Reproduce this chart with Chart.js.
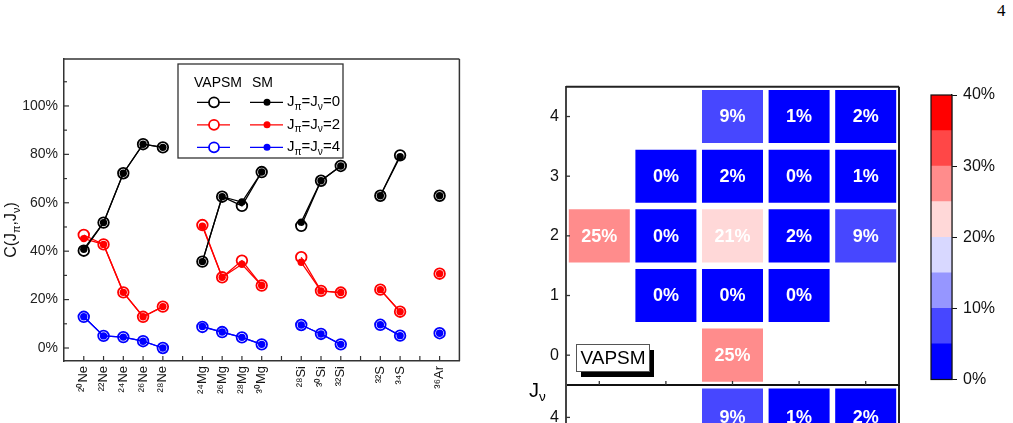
<!DOCTYPE html>
<html>
<head>
<meta charset="utf-8">
<script src="https://cdn.jsdelivr.net/npm/chart.js@4.4.0/dist/chart.umd.min.js"></script>
<style>
  html, body { margin: 0; padding: 0; background: #fff; }
  body { width: 1013px; height: 423px; overflow: hidden; position: relative; }
  .box { position: absolute; }
  #pageNum { position: absolute; left: 997px; top: 2px; font: 17px 'Liberation Serif', serif; line-height: 1; color: #000; }
</style>
</head>
<body>
<div id="pageNum">4</div>
<div class="box" style="left:0;top:40px;width:480px;height:383px"><canvas id="lines"></canvas></div>
<div class="box" style="left:510px;top:376px;width:400px;height:335px"><canvas id="mapBottom"></canvas></div>
<div class="box" style="left:510px;top:60px;width:400px;height:327px"><canvas id="mapTop"></canvas></div>
<div class="box" style="left:910px;top:80px;width:100px;height:320px"><canvas id="colorbar"></canvas></div>
<script>
// left panel: nuclei along x ('' = gap between isotope chains)
const nuclei = ['²⁰Ne', '²²Ne', '²⁴Ne', '²⁶Ne', '²⁸Ne', '', '²⁴Mg', '²⁶Mg', '²⁸Mg', '³⁰Mg', '',
                '²⁸Si', '³⁰Si', '³²Si', '', '³²S', '³⁴S', '', '³⁶Ar'];
// C(Jpi,Jnu) in %, VAPSM (open) and SM (filled)
const vapsm0 = [40.2, 51.8, 72.2, 84.2, 82.9, null, 35.7, 62.5, 58.7, 72.7, null, 50.5, 69.1, 75.2, null, 62.9, 79.6, null, 62.9];
const sm0    = [40.8, 51.8, 72.2, 84.2, 82.9, null, 35.7, 62.5, 60.3, 72.7, null, 52.0, 69.1, 75.2, null, 62.9, 79.0, null, 62.9];
const vapsm2 = [46.7, 42.8, 23.0, 12.9, 17.1, null, 50.8, 29.2, 36.1, 25.8, null, 37.5, 23.6, 22.9, null, 24.1, 15.0, null, 30.7];
const sm2    = [45.2, 42.8, 23.0, 12.9, 17.1, null, 50.3, 29.2, 34.6, 25.8, null, 35.4, 23.6, 22.9, null, 24.1, 15.0, null, 30.7];
const vapsm4 = [12.9, 5.0, 4.5, 2.8, 0.0, null, 8.7, 6.6, 4.4, 1.5, null, 9.5, 5.8, 1.5, null, 9.6, 5.1, null, 6.1];
const sm4    = [12.9, 5.0, 4.5, 2.8, 0.0, null, 8.9, 6.6, 4.4, 1.5, null, 9.5, 5.8, 1.5, null, 9.6, 5.1, null, 6.1];
const yTicks = [0, 20, 40, 60, 80, 100];

// right panel: rows Jnu, columns Jpi, values in %
const jpiLabels = ['0', '1', '2', '3', '4'];
const vapsmJnu0 = [null, null, 25, null, null];
const vapsmJnu1 = [null, 0, 0, 0, null];
const vapsmJnu2 = [25, 0, 21, 2, 9];
const vapsmJnu3 = [null, 0, 2, 0, 1];
const vapsmJnu4 = [null, null, 9, 1, 2];
const smJnu4 = [null, null, 9, 1, 2];
const jnuTicks = [0, 1, 2, 3, 4];

// colour scale
const levelEdges = [0, 5, 10, 15, 20, 25, 30, 35, 40];
const levelColors = ['#0000ff', '#4747ff', '#9696ff', '#d8d8ff', '#ffd8d8', '#ff8c8c', '#ff4747', '#ff0000'];
const barTicks = [0, 10, 20, 30, 40];

const FAM = "'Liberation Sans', Arial, sans-serif";
Chart.defaults.font.family = FAM;
Chart.defaults.color = '#000';

function levelColor(v) {
  if (v == null) return 'rgba(0,0,0,0)';
  const i = Math.min(Math.max(Math.floor(v / 5), 0), levelColors.length - 1);
  return levelColors[i];
}

// text with subscripts: parts = [[text, isSub], ...]
function richText(ctx, x, y, parts, size, align) {
  const setFont = p => { ctx.font = (p[1] ? size * 0.68 : size) + 'px ' + FAM; };
  let total = 0;
  parts.forEach(p => { setFont(p); total += ctx.measureText(p[0]).width; });
  let cx = align === 'center' ? x - total / 2 : x;
  ctx.textAlign = 'left';
  ctx.textBaseline = 'middle';
  parts.forEach(p => {
    setFont(p);
    ctx.fillText(p[0], cx, y + (p[1] ? size * 0.32 : 0));
    cx += ctx.measureText(p[0]).width;
  });
}

function line(ctx, x1, y1, x2, y2) {
  ctx.beginPath(); ctx.moveTo(x1, y1); ctx.lineTo(x2, y2); ctx.stroke();
}

// no extra room for half tick labels at the ends of a vertical axis
function noEndPadding(s) {
  s.paddingTop = 0;
  s.paddingBottom = 0;
}

const linesDecor = {
  id: 'linesDecor',
  afterDraw(chart) {
    const ctx = chart.ctx, a = chart.chartArea;
    const xs = chart.scales.x, ys = chart.scales.y;
    ctx.save();
    ctx.strokeStyle = '#333';
    ctx.lineWidth = 1.5;
    line(ctx, a.left, a.top, a.right, a.top);
    line(ctx, a.right, a.top, a.right, a.bottom);
    ctx.lineWidth = 1.2;
    for (let i = 1; i < chart.data.labels.length - 1; i++) {
      const px = xs.getPixelForValue(i);
      line(ctx, px, a.bottom, px, a.bottom - 5);
    }
    for (let v = 0; v <= 110; v += 10) {
      const py = ys.getPixelForValue(v);
      line(ctx, a.left, py, a.left + (v % 20 === 0 ? 5 : 3), py);
    }

    // legend
    const lx = 178, ly = 24, lw = 165, lh = 94;
    ctx.fillStyle = '#fff';
    ctx.fillRect(lx, ly, lw, lh);
    ctx.strokeStyle = '#333';
    ctx.lineWidth = 1.3;
    ctx.strokeRect(lx, ly, lw, lh);
    ctx.fillStyle = '#000';
    ctx.font = '14px ' + FAM;
    ctx.textBaseline = 'middle';
    ctx.textAlign = 'left';
    ctx.fillText('VAPSM', 194, 43);
    ctx.fillText('SM', 252, 43);
    const rows = [['#000', '0'], ['#ff0000', '2'], ['#0000ff', '4']];
    rows.forEach((r, k) => {
      const yy = 62.3 + k * 22.5;
      ctx.strokeStyle = r[0];
      ctx.lineWidth = 1.2;
      line(ctx, 197, yy, 230, yy);
      line(ctx, 250, yy, 283, yy);
      ctx.fillStyle = '#fff';
      ctx.lineWidth = 1.8;
      ctx.beginPath(); ctx.arc(214, yy, 5, 0, Math.PI * 2); ctx.fill(); ctx.stroke();
      ctx.fillStyle = r[0];
      ctx.beginPath(); ctx.arc(267, yy, 3.5, 0, Math.PI * 2); ctx.fill();
      ctx.fillStyle = '#000';
      richText(ctx, 287, yy, [['J', 0], ['π', 1], ['=J', 0], ['ν', 1], ['=' + r[1], 0]], 15, 'left');
    });

    // y title
    ctx.save();
    ctx.translate(12, 190);
    ctx.rotate(-Math.PI / 2);
    ctx.fillStyle = '#111';
    richText(ctx, 0, 0, [['C(J', 0], ['π', 1], [',J', 0], ['ν', 1], [')', 0]], 16, 'center');
    ctx.restore();
    ctx.restore();
  }
};

const pad = arr => [null, ...arr, null];

function lineSet(data, color, open) {
  return {
    data: pad(data),
    borderColor: color,
    backgroundColor: open ? 'rgba(0,0,0,0)' : color,
    pointBackgroundColor: open ? 'rgba(0,0,0,0)' : color,
    pointBorderColor: color,
    pointRadius: open ? 5.3 : 3.7,
    pointBorderWidth: open ? 1.8 : 0,
    borderWidth: 1.3,
    spanGaps: false,
    tension: 0
  };
}

new Chart(document.getElementById('lines'), {
  type: 'line',
  data: {
    labels: ['', ...nuclei, ''],
    datasets: [
      lineSet(sm0, '#000', false),
      lineSet(sm2, '#ff0000', false),
      lineSet(sm4, '#0000ff', false),
      lineSet(vapsm0, '#000', true),
      lineSet(vapsm2, '#ff0000', true),
      lineSet(vapsm4, '#0000ff', true)
    ]
  },
  options: {
    animation: false,
    responsive: true,
    maintainAspectRatio: false,
    layout: { autoPadding: false, padding: { top: 19, right: 9, left: 0, bottom: 0 } },
    plugins: { legend: { display: false }, tooltip: { enabled: false } },
    scales: {
      x: {
        type: 'category',
        offset: false,
        grid: { display: false, drawTicks: false },
        border: { color: '#333', width: 1.5 },
        ticks: { autoSkip: false, minRotation: 90, maxRotation: 90, padding: 5, color: '#111', font: { size: 13 } },
        afterFit: s => { s.height = 62; }
      },
      y: {
        min: -5.37,
        max: 119.4,
        grid: { display: false, drawTicks: false },
        border: { color: '#333', width: 1.5 },
        afterBuildTicks: s => { s.ticks = yTicks.map(v => ({ value: v })); },
        ticks: { callback: v => v + '%', padding: 6, color: '#222', font: { size: 14 } },
        afterFit: s => { s.width = 64; noEndPadding(s); }
      }
    }
  },
  plugins: [linesDecor]
});

const mapDecor = {
  id: 'mapDecor',
  afterDraw(chart, args, opts) {
    const ctx = chart.ctx, a = chart.chartArea;
    const xs = chart.scales.x, ys = chart.scales.y;
    ctx.save();
    ctx.strokeStyle = '#222';
    ctx.lineWidth = 2;
    line(ctx, a.left, a.top, a.right, a.top);
    line(ctx, a.right, a.top, a.right, a.bottom);
    ctx.lineWidth = 1.3;
    ctx.strokeStyle = '#333';
    jnuTicks.forEach(v => {
      const py = ys.getPixelForValue(v);
      line(ctx, a.left, py, a.left + 4, py);
    });
    jpiLabels.forEach((l, i) => {
      const px = xs.getPixelForValue(i);
      line(ctx, px, a.bottom, px, a.bottom - 4);
    });

    // cell labels
    ctx.fillStyle = '#fff';
    ctx.font = 'bold 18px ' + FAM;
    ctx.textAlign = 'center';
    ctx.textBaseline = 'middle';
    chart.data.datasets.forEach((ds, di) => {
      chart.getDatasetMeta(di).data.forEach((el, i) => {
        const v = ds.values[i];
        if (v == null) return;
        ctx.fillText(v + '%', el.x, (el.y + el.base) / 2 + 1);
      });
    });

    if (opts.tag) {
      const bx = 66, by = 284, bw = 73, bh = 27;
      ctx.fillStyle = '#000';
      ctx.fillRect(bx + 5, by + 6, bw, bh);
      ctx.fillStyle = '#fff';
      ctx.fillRect(bx, by, bw, bh);
      ctx.strokeStyle = '#555';
      ctx.lineWidth = 1;
      ctx.strokeRect(bx + 0.5, by + 0.5, bw, bh);
      ctx.fillStyle = '#000';
      ctx.font = '19px ' + FAM;
      ctx.fillText(opts.tag, bx + bw / 2 + 0.5, by + bh / 2 + 1);
    }
    if (opts.jnu) {
      ctx.fillStyle = '#000';
      richText(ctx, 19, 15, [['J', 0], ['ν', 1]], 20, 'left');
    }
    ctx.restore();
  }
};

function mapChart(id, rows, padTop, decor) {
  return new Chart(document.getElementById(id), {
    type: 'bar',
    data: {
      labels: jpiLabels,
      datasets: rows.map(r => ({
        data: r[1].map(v => v == null ? null : [r[0] - 0.445, r[0] + 0.445]),
        values: r[1],
        backgroundColor: r[1].map(levelColor),
        borderWidth: 0,
        barPercentage: 0.916,
        categoryPercentage: 1,
        grouped: false
      }))
    },
    options: {
      animation: false,
      responsive: true,
      maintainAspectRatio: false,
      layout: { autoPadding: false, padding: { top: padTop, right: 11, left: 0, bottom: 2 } },
      plugins: { legend: { display: false }, tooltip: { enabled: false }, mapDecor: decor },
      scales: {
        x: {
          offset: true,
          grid: { display: false, drawTicks: false },
          border: { color: '#111', width: 2 },
          ticks: { display: false },
          afterFit: s => { s.height = 0; s.paddingLeft = 0; s.paddingRight = 0; }
        },
        y: {
          min: -0.5,
          max: 4.5,
          grid: { display: false, drawTicks: false },
          border: { color: '#444', width: 2 },
          afterBuildTicks: s => { s.ticks = jnuTicks.map(v => ({ value: v })); },
          ticks: { padding: 7, color: '#111', font: { size: 16 } },
          afterFit: s => { s.width = 56; noEndPadding(s); }
        }
      }
    },
    plugins: [mapDecor]
  });
}

mapChart('mapTop', [[0, vapsmJnu0], [1, vapsmJnu1], [2, vapsmJnu2], [3, vapsmJnu3], [4, vapsmJnu4]], 26.7, { tag: 'VAPSM' });
mapChart('mapBottom', [[4, smJnu4]], 9, { jnu: true });

const barOutline = {
  id: 'barOutline',
  afterDraw(chart) {
    const ctx = chart.ctx, a = chart.chartArea;
    ctx.save();
    ctx.strokeStyle = '#111';
    ctx.lineWidth = 1.2;
    ctx.strokeRect(a.left, a.top, a.right - a.left, a.bottom - a.top);
    ctx.restore();
  }
};

new Chart(document.getElementById('colorbar'), {
  type: 'bar',
  data: {
    labels: [''],
    datasets: levelColors.map((c, i) => ({
      data: [[levelEdges[i], levelEdges[i + 1]]],
      backgroundColor: c,
      borderWidth: 0,
      barPercentage: 1,
      categoryPercentage: 1,
      grouped: false
    }))
  },
  options: {
    animation: false,
    responsive: true,
    maintainAspectRatio: false,
    layout: { autoPadding: false, padding: { top: 15, left: 21, right: 0, bottom: 20.5 } },
    plugins: { legend: { display: false }, tooltip: { enabled: false } },
    scales: {
      x: { display: false },
      y: {
        position: 'right',
        min: 0,
        max: 40,
        grid: { drawOnChartArea: false, drawTicks: true, tickLength: 5, color: '#111' },
        border: { color: '#111', width: 1.2 },
        afterBuildTicks: s => { s.ticks = barTicks.map(v => ({ value: v })); },
        ticks: { callback: v => v + '%', padding: 6, color: '#111', font: { size: 16 } },
        afterFit: s => { s.width = 58; noEndPadding(s); }
      }
    }
  },
  plugins: [barOutline]
});
</script>
</body>
</html>
